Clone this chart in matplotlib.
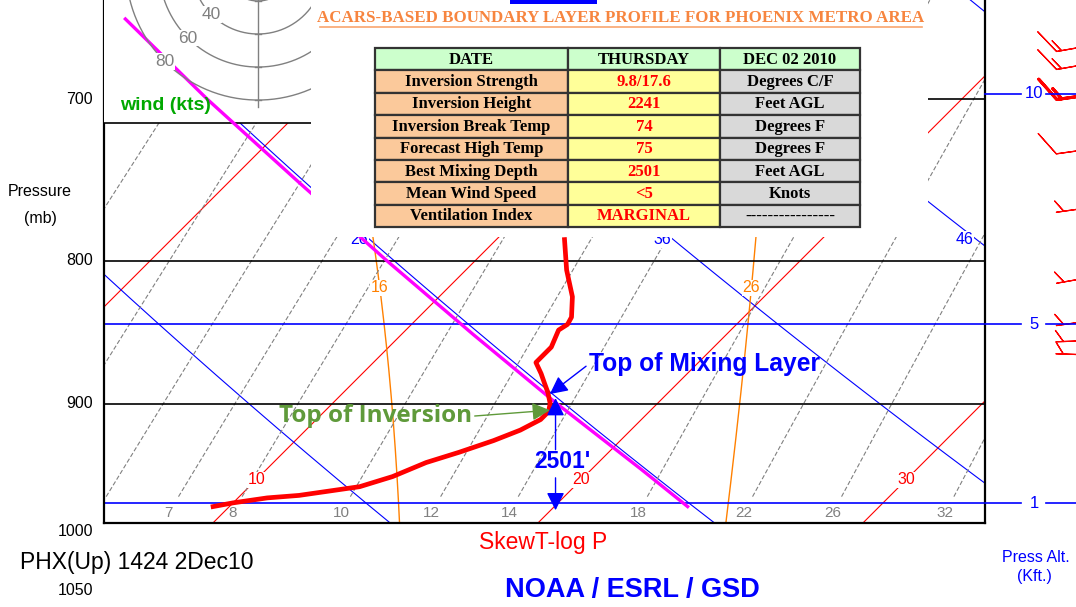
import numpy as np
import matplotlib
matplotlib.use("Agg")
import matplotlib.pyplot as plt
import matplotlib.transforms as mtransforms
from matplotlib.patches import Rectangle

plt.rcParams["font.family"] = ["Liberation Sans", "DejaVu Sans"]

# ACARS temperature profile (mb, deg C)
prof_p = [786, 806, 824, 838, 843, 847, 859, 866, 870, 878, 885, 892, 900,
          906, 912, 920, 928, 937, 945, 956, 964, 971, 973, 977, 980]
prof_t = [12.1, 13.1, 14.1, 14.7, 14.8, 14.7, 15.0, 15.0, 15.0, 15.5, 15.9, 16.3, 16.7,
          16.9, 16.9, 16.6, 16.1, 15.4, 14.7, 14.1, 13.4, 11.8, 10.9, 10.0, 9.5]

# magenta dry adiabat from the forecast high
mix_p = [655, 700, 750, 800, 850, 900, 950, 980]
mix_t = [-8.2, -3.2, 2.2, 7.3, 12.2, 16.9, 21.5, 24.1]

# background diagram
isotherms = [-10, 0, 10, 20, 30, 40]
iso_labels = [10, 20, 30]
dry_thetas = [6, 16, 26, 36, 46, 56]
dry_labels = [26, 36, 46]
moist_thetas = [16, 26]
mixing_ratios = [3, 4, 5, 6, 7, 8, 10, 12, 14, 18, 22, 26, 32]
isobars = [700, 800, 900]
press_labels = [700, 800, 900, 1000, 1050]
alt_kft = [1, 5, 10]
alt_in_plot = [1, 5]

# hodograph rings (kts)
hodo_rings = [20, 40, 60, 80]
hodo_labels = [40, 60, 80]

# wind barbs
barb_p = [668, 678, 696, 728, 764, 809, 839, 854, 865]
barb_spd = [15, 15, 15, 10, 5, 5, 5, 5, 5]
barb_dir = [260, 260, 262, 262, 262, 260, 262, 268, 272]
barb_bold = [False, False, True, False, False, False, False, False, False]

# annotations
mix_top_p, mix_top_t = 893, 16.4
inv_top_p, inv_top_t = 905, 16.9
depth_top_p, depth_t, sfc_p = 896, 16.7, 983
depth_text_p, depth_gap = 944, (935, 957)
depth_label = "2501'"

title = "ACARS-BASED BOUNDARY LAYER PROFILE FOR PHOENIX METRO AREA"
table_head = ["DATE", "THURSDAY", "DEC 02 2010"]
table_items = ["Inversion Strength", "Inversion Height", "Inversion Break Temp",
               "Forecast High Temp", "Best Mixing Depth", "Mean Wind Speed",
               "Ventilation Index"]
table_values = ["9.8/17.6", "2241", "74", "75", "2501", "<5", "MARGINAL"]
table_units = ["Degrees C/F", "Feet AGL", "Degrees F", "Degrees F", "Feet AGL",
               "Knots", "----------------"]

BLUE = "#0000ff"
RED = "#ff0000"
GRAY = "#808080"
ORANGE = "#ff8000"
MAGENTA = "#ff00ff"
GREEN = "#5f9a3a"

SKEW = 1210.0 / 32.5


def skew_x(t, p):
    return np.asarray(t, dtype=float) + SKEW * np.log(1000.0 / np.asarray(p, dtype=float))


def dry_adiabat(theta_c, p):
    return (theta_c + 273.15) * (np.asarray(p) / 1000.0) ** 0.2857 - 273.15


def mixing_dewpoint(w, p):
    e = w * np.asarray(p) / (622.0 + w)
    a = np.log(e / 6.112)
    return 243.5 * a / (17.67 - a)


def moist_adiabat(theta_w, levels):
    t = theta_w + 273.15
    out = [t]
    for i in range(1, len(levels)):
        p = levels[i - 1]
        es = 6.112 * np.exp(17.67 * (t - 273.15) / (t - 29.65))
        rs = 0.622 * es / (p - es)
        dtdp = (287.04 * t + 2.501e6 * rs) / (1005.7 + 2.501e6 ** 2 * rs * 0.622 / (287.04 * t * t)) / p
        t = t + dtdp * (levels[i] - p)
        out.append(t)
    return np.array(out) - 273.15


def kft_to_mb(h):
    return 1013.25 * (1 - 6.8756e-6 * h * 1000) ** 5.2559


W, H = 1076.0, 607.0


def fig_rect(x0, y0, x1, y1):
    return [x0 / W, 1 - y1 / H, (x1 - x0) / W, (y1 - y0) / H]


fig = plt.figure(figsize=(10.76, 6.07), dpi=100)

ax = fig.add_axes(fig_rect(104, 0, 985, 523))
ax.set_yscale("log")
ax.set_xlim(6.895, 34.003)
ax.set_ylim(993.4, 644.8)
ax.set_xticks([])
ax.set_yticks([])
ax.set_yticks([], minor=True)
for side in ["left", "right", "bottom"]:
    ax.spines[side].set_linewidth(1.6)
ax.spines["top"].set_visible(False)

pp = np.linspace(1000, 640, 200)
for t in isotherms:
    ax.plot(skew_x(np.full_like(pp, t), pp), pp, color=RED, lw=0.8, zorder=1)
for th in dry_thetas:
    ax.plot(skew_x(dry_adiabat(th, pp), pp), pp, color=BLUE, lw=0.8, zorder=1)
pm = np.linspace(1000, 640, 361)
moist_lines = {}
for th in moist_thetas:
    moist_lines[th] = moist_adiabat(th, pm)
    ax.plot(skew_x(moist_lines[th], pm), pm, color=ORANGE, lw=1.0, zorder=1)
pw = np.linspace(972, 640, 150)
for w in mixing_ratios:
    ax.plot(skew_x(mixing_dewpoint(w, pw), pw), pw, color=GRAY, lw=0.8,
            ls=(0, (4, 2)), zorder=1)
for p in isobars:
    ax.axhline(p, color="black", lw=1.2, zorder=1.5)
for h in alt_in_plot:
    ax.axhline(kft_to_mb(h), color=BLUE, lw=1.2, zorder=1.5)

lab_box = dict(fc="white", ec="none", pad=0.5)
x0, x1 = ax.get_xlim()
for t in iso_labels:
    ax.text(skew_x(t, 958.5), 958.5, str(t), color=RED, fontsize=11.5, ha="center",
            va="center", bbox=lab_box, zorder=2)
for th in dry_labels:
    ax.text(skew_x(dry_adiabat(th, 780), 780), 786, str(th), color=BLUE, fontsize=11.5,
            ha="center", va="center", bbox=lab_box, zorder=2)
for th in moist_thetas:
    tl = np.interp(818, pm[::-1], moist_lines[th][::-1])
    ax.text(skew_x(tl, 818), 818, str(th), color=ORANGE, fontsize=11.5, ha="center",
            va="center", bbox=lab_box, zorder=2)
for w in mixing_ratios:
    xl = skew_x(mixing_dewpoint(w, 985), 985)
    if x0 + 0.3 < xl < x1:
        ax.text(xl, 985, str(w), color=GRAY, fontsize=11, ha="center", va="center", zorder=2)

# white boxes pasted over the diagram (hodograph and table area)
hb = (311 - 104) / 881.0
ax.add_patch(Rectangle((0, 1 - 123 / 523.0), hb, 123 / 523.0, transform=ax.transAxes,
                       fc="white", ec="none", zorder=3))
ax.plot([0, hb], [1 - 123 / 523.0] * 2, transform=ax.transAxes, color="black", lw=1.2, zorder=3.2)
ax.add_patch(Rectangle((hb, 1 - 237 / 523.0), (928 - 311) / 881.0, 237 / 523.0,
                       transform=ax.transAxes, fc="white", ec="none", zorder=5))

ax.plot(skew_x(mix_t, mix_p), mix_p, color=MAGENTA, lw=2.4, zorder=4)
ax.plot(skew_x(prof_t, prof_p), prof_p, color=RED, lw=3.4, zorder=4.5)

head = "-|>,head_length=0.6,head_width=0.3"
ax.annotate("Top of Mixing Layer", xy=(skew_x(mix_top_t, mix_top_p), mix_top_p),
            xytext=(39, 30), textcoords="offset pixels", ha="left", va="center",
            color=BLUE, fontsize=17.7, fontweight="bold", zorder=6, annotation_clip=False,
            arrowprops=dict(arrowstyle=head, mutation_scale=18, color=BLUE, lw=1.0,
                            relpos=(0, 0.5), shrinkA=0, shrinkB=0))
ax.annotate("Top of Inversion", xy=(skew_x(inv_top_t, inv_top_p), inv_top_p),
            xytext=(-78, -6), textcoords="offset pixels", ha="right", va="center",
            color=GREEN, fontsize=17.5, fontweight="bold", fontfamily="Open Sans",
            zorder=6, annotation_clip=False,
            arrowprops=dict(arrowstyle=head, mutation_scale=18, color=GREEN, lw=1.0,
                            relpos=(1, 0.5), shrinkA=0, shrinkB=0))
dx = skew_x(depth_t, depth_top_p)
ax.annotate("", xy=(dx, depth_top_p), xytext=(dx, depth_gap[0]),
            arrowprops=dict(arrowstyle=head, mutation_scale=18, color=BLUE, lw=1.0,
                            shrinkA=0, shrinkB=0), zorder=6)
ax.annotate("", xy=(dx, sfc_p), xytext=(dx, depth_gap[1]),
            arrowprops=dict(arrowstyle=head, mutation_scale=18, color=BLUE, lw=1.0,
                            shrinkA=0, shrinkB=0), zorder=6)
ax.annotate(depth_label, xy=(dx, depth_text_p), xytext=(7, 0), textcoords="offset pixels",
            ha="center", va="center", color=BLUE, fontsize=16.5, fontweight="bold", zorder=6)

# hodograph
hx = fig.add_axes(fig_rect(104, 0, 311, 123))
hx.set_xlim(-93.3, 32.1)
hx.set_ylim(-93.9, -19.4)
hx.axis("off")
ang = np.linspace(0, 2 * np.pi, 400)
for r in hodo_rings:
    hx.plot(r * np.cos(ang), r * np.sin(ang), color=GRAY, lw=1.0)
    hx.plot([-2, 2], [-r, -r], color=GRAY, lw=1.0)
hx.plot([0, 0], [0, -84.2], color=GRAY, lw=1.0)
for r in hodo_labels:
    hx.text(-r * 0.707, -r * 0.707, str(r), color=GRAY, fontsize=12.5, ha="center",
            va="center", bbox=dict(fc="white", ec="none", pad=0.5))

# wind barbs column (station point sits past the right edge)
bx = fig.add_axes(fig_rect(985, 0, 1200, 523), sharey=ax)
bx.set_xlim(985, 1200)
bx.axis("off")
d = np.radians(barb_dir)
u = -np.array(barb_spd) * np.sin(d)
v = -np.array(barb_spd) * np.cos(d)
barb_sizes = dict(height=0.45, width=0.6, spacing=0.1, emptybarb=0.15)
for bold in [False, True]:
    sel = [i for i in range(len(barb_p)) if barb_bold[i] == bold]
    bx.barbs([1106] * len(sel), [barb_p[i] for i in sel], u[sel], v[sel], length=8.5,
             sizes=barb_sizes, color=RED, lw=2.2 if bold else 0.9)

# overlay in pixel space
ov = fig.add_axes([0, 0, 1, 1])
ov.set_xlim(0, W)
ov.set_ylim(H, 0)
ov.axis("off")
ov.set_autoscale_on(False)
py = mtransforms.blended_transform_factory(ov.transData, ax.transData)

for p in press_labels:
    ov.text(93, p, str(p), transform=py, ha="right", va="center", fontsize=11.5)
ov.text(40, 192, "Pressure", ha="center", va="center", fontsize=11.5)
ov.text(40, 218, "(mb)", ha="center", va="center", fontsize=11.5)

for h in alt_kft:
    p = kft_to_mb(h)
    ov.plot([985, 1021], [p, p], transform=py, color=BLUE, lw=1.2)
    ov.plot([1046, 1076], [p, p], transform=py, color=BLUE, lw=1.2)
    ov.text(1034, p, str(h), transform=py, ha="center", va="center", color=BLUE, fontsize=12)
ov.text(1036, 557, "Press Alt.", ha="center", va="center", color=BLUE, fontsize=11.5)
ov.text(1034, 577, "(Kft.)", ha="center", va="center", color=BLUE, fontsize=11.5)

ov.text(120, 106, "wind (kts)", ha="left", va="center", color="#00a800",
        fontsize=14, fontweight="bold")
ov.text(20, 563, "PHX(Up) 1424 2Dec10", ha="left", va="center", fontsize=16.5)
ov.text(543, 543, "SkewT-log P", ha="center", va="center", color=RED, fontsize=16.5)
ov.text(632, 590, "NOAA / ESRL / GSD", ha="center", va="center", color=BLUE,
        fontsize=19.5, fontweight="bold")

# title and summary table
ov.add_patch(Rectangle((510, 0), 87, 4, fc=BLUE, ec="none"))
ov.text(621, 18, title, ha="center", va="center", color="#f7853f", fontsize=12.2,
        fontfamily="Liberation Serif", fontweight="bold")
ov.plot([320, 922], [27, 27], color="#f9a56e", lw=1.2)

col_x = [375, 568, 720, 860]
row_y = 48
row_h = 22.4
body_fill = ["#fbc99b", "#ffff99", "#d9d9d9"]
rows = [table_head] + [[a, b, c] for a, b, c in zip(table_items, table_values, table_units)]
for r, row in enumerate(rows):
    y = row_y + r * row_h
    for c, txt in enumerate(row):
        fill = "#ccffcc" if r == 0 else body_fill[c]
        ov.add_patch(Rectangle((col_x[c], y), col_x[c + 1] - col_x[c], row_h,
                               fc=fill, ec="#333333", lw=1.6))
        tc = RED if (r > 0 and c == 1) else "black"
        ov.text((col_x[c] + col_x[c + 1]) / 2, y + row_h / 2 + 0.5, txt, ha="center",
                va="center", color=tc, fontsize=12, fontfamily="Liberation Serif",
                fontweight="bold")

fig.savefig("out.png", dpi=100)
